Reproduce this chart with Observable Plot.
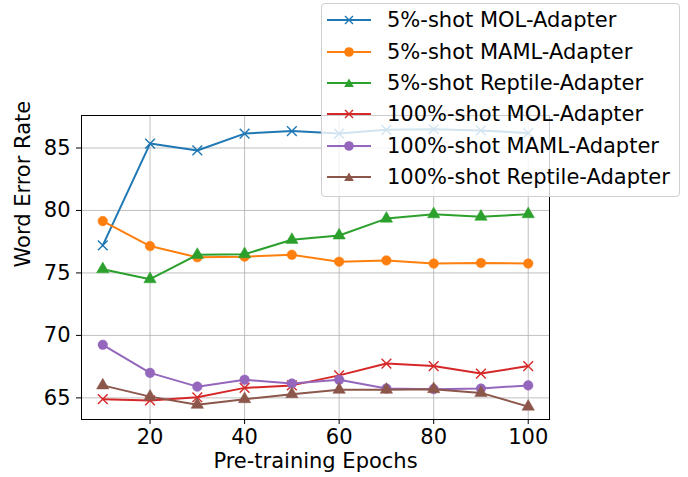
<!DOCTYPE html>
<html>
<head>
<meta charset="utf-8">
<script src="https://cdn.jsdelivr.net/npm/d3@7"></script>
<script src="https://cdn.jsdelivr.net/npm/@observablehq/plot@0.6"></script>
<style>
  body { margin: 0; background: #fff; font-family: "DejaVu Sans", sans-serif; }
  #wrap { position: relative; width: 688px; height: 477px; }
  #legend { position: absolute; left: 321px; top: 3px; width: 357px; height: 192px;
    background: rgba(255,255,255,0.8); border: 1px solid #d0d0d0; border-radius: 4px;
    box-sizing: content-box; }
  .row { position: absolute; left: 0; height: 30px; display: flex; align-items: center; }
  .row span { font-size: 21px; color: #000; margin-left: 16px; white-space: nowrap; }
  .row svg { margin-left: 5px; }
</style>
</head>
<body>
<div id="wrap"></div>
<script>
const epochs = [10, 20, 30, 40, 50, 60, 70, 80, 90, 100];
const seriesNames = [
  "5%-shot MOL-Adapter", "5%-shot MAML-Adapter", "5%-shot Reptile-Adapter",
  "100%-shot MOL-Adapter", "100%-shot MAML-Adapter", "100%-shot Reptile-Adapter"
];
const mol5    = [77.2, 85.35, 84.8, 86.15, 86.35, 86.15, 86.45, 86.5, 86.4, 86.2];
const maml5   = [79.15, 77.15, 76.25, 76.3, 76.45, 75.9, 76.0, 75.75, 75.8, 75.75];
const rep5    = [75.3, 74.5, 76.45, 76.5, 77.65, 78.0, 79.35, 79.7, 79.5, 79.7];
const mol100  = [64.9, 64.8, 65.05, 65.8, 66.0, 66.8, 67.75, 67.55, 66.95, 67.55];
const maml100 = [69.25, 67.0, 65.9, 66.45, 66.15, 66.45, 65.75, 65.7, 65.75, 66.0];
const rep100  = [66.0, 65.1, 64.45, 64.9, 65.3, 65.65, 65.65, 65.7, 65.4, 64.3];
const xTicks = [20, 40, 60, 80, 100];
const yTicks = [65, 70, 75, 80, 85];

const colors = ["#1f77b4", "#ff7f0e", "#2ca02c", "#d62728", "#9467bd", "#8c564b"];
const symbols = ["times", "circle", "triangle", "times", "circle", "triangle"];
const values = [mol5, maml5, rep5, mol100, maml100, rep100];

const series = values.map((vals, i) => epochs.map((e, j) => ({x: e, y: vals[j], s: seriesNames[i]})));

const marks = [
  Plot.gridX(xTicks, {stroke: "#b0b0b0", strokeOpacity: 1, strokeWidth: 0.8}),
  Plot.gridY(yTicks, {stroke: "#b0b0b0", strokeOpacity: 1, strokeWidth: 0.8}),
];
series.forEach((d, i) => {
  marks.push(Plot.line(d, {x: "x", y: "y", stroke: colors[i], strokeWidth: 2}));
  if (symbols[i] === "times") {
    marks.push(Plot.dot(d, {x: "x", y: "y", symbol: "times", r: 4.5, stroke: colors[i], strokeWidth: 1.4}));
  } else if (symbols[i] === "circle") {
    marks.push(Plot.dot(d, {x: "x", y: "y", symbol: "circle", r: 4.8, fill: colors[i], stroke: colors[i], strokeWidth: 0.5}));
  } else {
    marks.push(Plot.dot(d, {x: "x", y: "y", symbol: "triangle", r: 4.6, fill: colors[i], stroke: colors[i], strokeWidth: 0.5}));
  }
});
marks.push(
  Plot.frame({stroke: "#000", strokeWidth: 1}),
  Plot.axisX({ticks: xTicks, tickSize: 5, tickPadding: 5, fontSize: 21, label: null, stroke: "#000"}),
  Plot.axisY({ticks: yTicks, tickSize: 5, tickPadding: 6, fontSize: 21, label: null, stroke: "#000"}),
  Plot.text(["Pre-training Epochs"], {frameAnchor: "bottom", dy: 48, fontSize: 21, fill: "#000"}),
  Plot.text(["Word Error Rate"], {frameAnchor: "left", dx: -58, rotate: -90, fontSize: 21, fill: "#000"})
);

const chart = Plot.plot({
  width: 688,
  height: 477,
  marginLeft: 81,
  marginRight: 139,
  marginTop: 115,
  marginBottom: 58,
  x: {domain: [5.5, 104.5]},
  y: {domain: [63.27, 87.6]},
  style: {fontFamily: "DejaVu Sans", fontSize: "21px", color: "#000", background: "#fff"},
  marks
});
const wrap = document.getElementById("wrap");
wrap.appendChild(chart);

// Legend overlay
const legend = document.createElement("div");
legend.id = "legend";
const rowTops = [1, 33, 64, 95, 127, 158];
seriesNames.forEach((name, i) => {
  const row = document.createElement("div");
  row.className = "row";
  row.style.top = rowTops[i] + "px";
  const c = colors[i];
  let marker = "";
  if (symbols[i] === "times") {
    marker = `<path d="M18,11 L26,19 M26,11 L18,19" stroke="${c}" stroke-width="1.4"/>`;
  } else if (symbols[i] === "circle") {
    marker = `<circle cx="22" cy="15" r="4.8" fill="${c}"/>`;
  } else {
    marker = `<path d="M22,10.5 L26.8,19 L17.2,19 Z" fill="${c}"/>`;
  }
  row.innerHTML = `<svg width="44" height="30"><line x1="0" y1="15" x2="44" y2="15" stroke="${c}" stroke-width="2"/>${marker}</svg><span>${name}</span>`;
  legend.appendChild(row);
});
wrap.appendChild(legend);
</script>
</body>
</html>
